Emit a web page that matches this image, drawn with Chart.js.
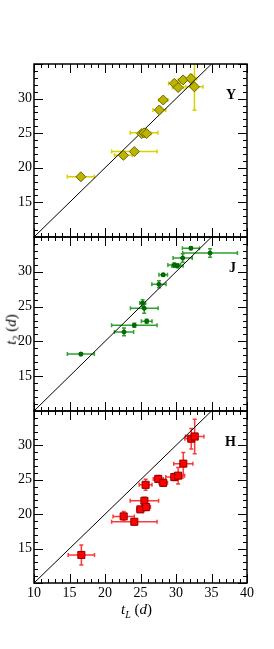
<!DOCTYPE html>
<html>
<head>
<meta charset="utf-8">
<script src="https://cdn.jsdelivr.net/npm/chart.js@4.4.0/dist/chart.umd.min.js"></script>
<style>
  body { margin: 0; background: #fff; }
  #wrap { position: relative; width: 274px; height: 649px; overflow: hidden; }
  canvas { position: absolute; left: 0; }
  .ttl { position: absolute; font-family: 'Liberation Serif', serif; font-size: 15px; color: #000; white-space: nowrap; line-height: 17px; }
  .ttl sub { font-size: 10px; line-height: 0; }
</style>
</head>
<body>
<div id="wrap">
  <canvas id="cY" width="274" height="213" style="top:44px"></canvas>
  <canvas id="cJ" width="274" height="214" style="top:217px"></canvas>
  <canvas id="cH" width="274" height="258" style="top:391px"></canvas>
  <div class="ttl" style="left:-4px; top:321px; transform: rotate(-90deg);"><i>t</i><sub>2</sub> (<i>d</i>)</div>
  <div class="ttl" style="left:121px; top:601px;"><i>t</i><sub><i>L</i></sub> (<i>d</i>)</div>
</div>
<script>
// Y band
const yX    = [16.6, 22.6, 24.13, 25.17, 25.5, 25.87, 27.65, 28.2, 29.76, 30.3, 31.0, 32.1, 32.6];
const yY    = [18.7, 21.8, 22.35, 24.95, 25.05, 24.95, 28.36, 29.8, 32.2, 31.6, 32.7, 32.9, 31.7];
const yXerr = [1.9, 1.25, 3.2, 0.5, 1.95, 0.6, 0.9, 0.65, 0.8, 0.8, 0.7, 0.8, 1.2];
const yYerr = [0.3, 0.4, 0.3, 0.3, 0.3, 0.3, 0.4, 0.3, 0.4, 0.4, 0.3, 0.6, 3.4];

// J band
const jX    = [16.6, 22.68, 24.13, 25.3, 25.53, 25.87, 27.6, 28.2, 29.76, 30.2, 30.94, 32.1, 34.8];
const jY    = [18.18, 21.36, 22.32, 25.5, 24.75, 22.9, 28.2, 29.57, 30.97, 30.87, 31.98, 33.39, 32.7];
const jXerr = [1.9, 1.35, 3.2, 0.4, 1.95, 0.75, 1.0, 0.6, 0.9, 0.8, 1.35, 1.2, 3.85];
const jYerr = [0.2, 0.55, 0.3, 0.5, 0.7, 0.3, 0.5, 0.2, 0.3, 0.3, 0.6, 0.2, 0.6];

// H band
const hX    = [16.67, 22.63, 24.13, 24.98, 25.55, 25.8, 25.72, 27.5, 28.2, 29.76, 30.3, 31.03, 32.15, 32.63];
const hY    = [14.08, 19.68, 18.9, 20.7, 21.95, 21.03, 24.27, 25.13, 24.56, 25.4, 25.6, 27.35, 30.97, 31.3];
const hXerr = [1.85, 1.5, 3.2, 0.5, 2.0, 0.6, 0.9, 0.7, 0.6, 1.2, 0.9, 1.35, 0.9, 1.3];
const hYerr = [1.45, 0.7, 0.4, 0.4, 0.5, 0.5, 0.8, 0.5, 0.5, 0.5, 1.2, 1.6, 1.5, 2.5];

// axes
const xMin = 10, xMax = 40, yMin = 10, yMax = 35;
const xTickLabels = [10, 15, 20, 25, 30, 35, 40];
const yTickLabels = [15, 20, 25, 30];
const diag = [10, 35];

const serif = "'Liberation Serif', 'DejaVu Serif', serif";

// error bars drawn from the scales
const errorBars = {
  id: 'errorBars',
  beforeDatasetsDraw(chart) {
    const { ctx, chartArea: a, scales: { x, y } } = chart;
    ctx.save();
    ctx.beginPath();
    ctx.rect(a.left, a.top, a.right - a.left, a.bottom - a.top);
    ctx.clip();
    chart.data.datasets.forEach(ds => {
      if (!ds.xErr) return;
      ctx.strokeStyle = ds.errColor;
      ctx.lineWidth = 1.5;
      ds.data.forEach((p, i) => {
        const px = x.getPixelForValue(p.x), py = y.getPixelForValue(p.y);
        const x0 = x.getPixelForValue(p.x - ds.xErr[i]), x1 = x.getPixelForValue(p.x + ds.xErr[i]);
        const y0 = y.getPixelForValue(p.y - ds.yErr[i]), y1 = y.getPixelForValue(p.y + ds.yErr[i]);
        ctx.beginPath();
        ctx.moveTo(x0, py); ctx.lineTo(x1, py);
        ctx.moveTo(x0, py - 2); ctx.lineTo(x0, py + 2);
        ctx.moveTo(x1, py - 2); ctx.lineTo(x1, py + 2);
        ctx.moveTo(px, y0); ctx.lineTo(px, y1);
        ctx.moveTo(px - 2, y0); ctx.lineTo(px + 2, y0);
        ctx.moveTo(px - 2, y1); ctx.lineTo(px + 2, y1);
        ctx.stroke();
      });
    });
    ctx.restore();
  }
};

// frame with inward major/minor ticks and band label
const frameTicks = {
  id: 'frameTicks',
  afterDatasetsDraw(chart, args, opts) {
    const { ctx, chartArea: a, scales: { x, y } } = chart;
    ctx.save();
    ctx.strokeStyle = '#000';
    ctx.lineWidth = 1;
    ctx.beginPath();
    for (let v = xMin; v <= xMax; v++) {
      const px = Math.round(x.getPixelForValue(v)) + 0.5;
      const len = v % 5 === 0 ? 9 : 4;
      ctx.moveTo(px, a.top); ctx.lineTo(px, a.top + len);
      ctx.moveTo(px, a.bottom); ctx.lineTo(px, a.bottom - len);
    }
    for (let v = yMin; v <= yMax; v++) {
      const py = Math.round(y.getPixelForValue(v)) + 0.5;
      const len = v % 5 === 0 ? 9 : 4;
      ctx.moveTo(a.left, py); ctx.lineTo(a.left + len, py);
      ctx.moveTo(a.right, py); ctx.lineTo(a.right - len, py);
    }
    ctx.stroke();
    ctx.lineWidth = 1.5;
    ctx.strokeRect(a.left, a.top, a.right - a.left, a.bottom - a.top);
    ctx.fillStyle = '#000';
    ctx.font = 'bold 14px ' + serif;
    ctx.textAlign = 'right';
    ctx.textBaseline = 'middle';
    ctx.fillText(opts.label, a.right - 11, a.top + 31);
    ctx.restore();
  }
};

function makePanel(id, label, xs, ys, xe, ye, pt, showX) {
  const pts = xs.map((v, i) => ({ x: v, y: ys[i] }));
  const cvs = document.getElementById(id);
  new Chart(cvs, {
    type: 'scatter',
    data: {
      datasets: [
        {
          data: pts,
          xErr: xe, yErr: ye, errColor: pt.err,
          pointStyle: pt.style,
          pointRadius: pt.r,
          pointBackgroundColor: pt.fill,
          pointBorderColor: pt.border,
          pointBorderWidth: 1
        },
        {
          data: diag.map(v => ({ x: v, y: v })),
          showLine: true,
          borderColor: '#000',
          borderWidth: 1,
          pointRadius: 0
        }
      ]
    },
    options: {
      responsive: false,
      animation: false,
      devicePixelRatio: 1,
      layout: { padding: { left: 0, right: 27, top: 20, bottom: showX ? 0 : 20 } },
      plugins: {
        legend: { display: false },
        tooltip: { enabled: false },
        frameTicks: { label: label }
      },
      scales: {
        x: {
          type: 'linear', min: xMin, max: xMax,
          display: showX,
          grid: { display: false, drawTicks: false, tickLength: 0 },
          border: { display: false },
          afterFit: s => { if (showX) s.height = cvs.height - 20 - 172; },
          afterBuildTicks: s => { s.ticks = xTickLabels.map(v => ({ value: v })); },
          ticks: { autoSkip: false, maxRotation: 0, padding: 2, color: '#000', font: { family: serif, size: 14 } }
        },
        y: {
          type: 'linear', min: yMin, max: yMax,
          grid: { display: false, drawTicks: false, tickLength: 0 },
          border: { display: false },
          afterFit: s => { s.width = 34; },
          afterBuildTicks: s => { s.ticks = yTickLabels.map(v => ({ value: v })); },
          ticks: { padding: 2, color: '#000', font: { family: serif, size: 14 } }
        }
      }
    },
    plugins: [errorBars, frameTicks]
  });
}

makePanel('cY', 'Y', yX, yY, yXerr, yYerr,
  { style: 'rectRot', r: 5, fill: '#bdb400', border: '#6b6600', err: '#d8d200' }, false);
makePanel('cJ', 'J', jX, jY, jXerr, jYerr,
  { style: 'circle', r: 2, fill: '#007000', border: '#006000', err: '#30a030' }, false);
makePanel('cH', 'H', hX, hY, hXerr, hYerr,
  { style: 'rect', r: 5, fill: '#ff0000', border: '#8a0000', err: '#ff3838' }, true);
</script>
</body>
</html>
